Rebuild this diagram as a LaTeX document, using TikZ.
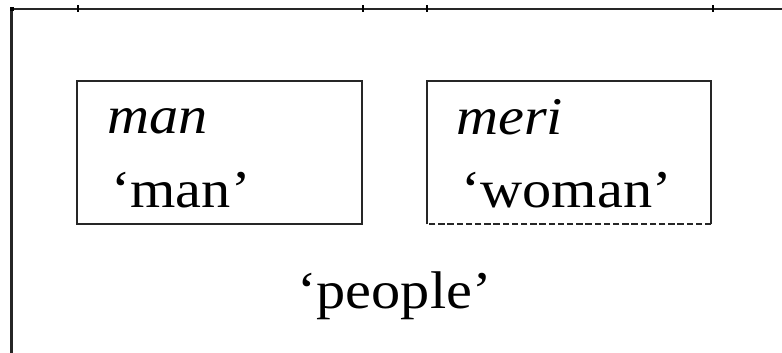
\documentclass[tikz,border=0pt]{standalone}
\usepackage{fontspec}
\setmainfont[FakeStretch=1.1]{Liberation Serif}
\begin{document}
\begin{tikzpicture}[x=1pt,y=-1pt,
  wordbox/.style={draw=none,minimum width=285pt,minimum height=143pt,inner sep=0pt,anchor=north west},
  txt/.style={inner sep=0pt,anchor=base west,font=\fontsize{53}{60}\selectfont},
  frame/.style={line width=2.4pt,black!85},
  boxline/.style={line width=2pt,black!85},
  tick/.style={line width=2pt,black}]
\useasboundingbox (0,0) rectangle (782,353);
\fill[white] (0,0) rectangle (782,353);
% outer frame (runs off the right and bottom)
\coordinate (fr) at (782,9);
\coordinate (fc) at (11.5,9);
\coordinate (fb) at (11.5,353);
\draw[frame] (fr) -- (fc) -- (fb);
\fill[black] (10,7) rectangle (13.5,11);
% small ticks on the top line
\foreach \t in {78,363,427,713}{
  \coordinate (ta) at (\t,5.5);
  \coordinate (tb) at (\t,12.5);
  \draw[tick] (ta) -- (tb);
}
% boxes
\node[wordbox] (b1) at (77,81) {};
\node[wordbox,minimum width=284pt] (b2) at (427,81) {};
\draw[boxline] (b1.south west) -- (b1.north west) -- (b1.north east) -- (b1.south east) -- cycle;
\draw[boxline] (b2.south west) -- (b2.north west) -- (b2.north east) -- (b2.south east);
\draw[boxline,dash pattern=on 6.5pt off 2.7pt] (b2.south east) -- (b2.south west);
% texts
\node[txt] (t1a) at (107,133) {\itshape man};
\node[txt] (t1b) at (111,207.5) {‘man’};
\node[txt] (t2a) at (456,134.5) {\itshape meri};
\node[txt] (t2b) at (461,207.5) {‘woman’};
\node[txt,anchor=base] (t3) at (394.5,308) {‘people’};
\end{tikzpicture}
\end{document}
